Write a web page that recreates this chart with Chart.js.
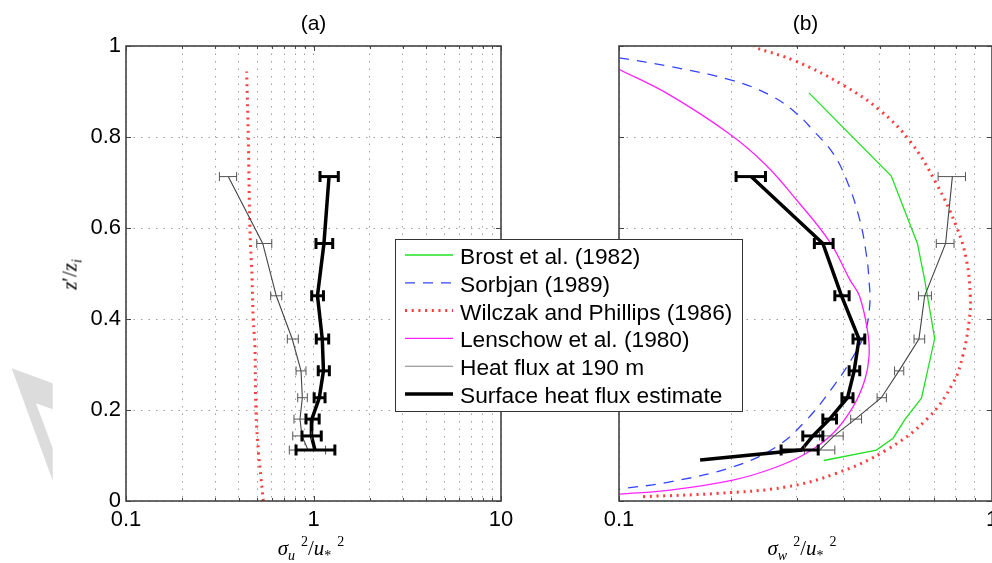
<!DOCTYPE html>
<html>
<head>
<meta charset="utf-8">
<title>Velocity variance profiles</title>
<script src="https://cdn.jsdelivr.net/npm/chart.js@4.4.1/dist/chart.umd.min.js"></script>
<style>
 html,body{margin:0;padding:0;background:#fff;}
 body{width:992px;height:563px;overflow:hidden;position:relative;}
 canvas{position:absolute;top:0;}
 #panelA{left:0;z-index:1;}
 #panelB{left:380px;z-index:2;}
 #mark{position:absolute;left:0;top:0;z-index:0;}
 .axlabel{position:absolute;font-family:"Liberation Serif","DejaVu Serif",serif;font-size:21px;line-height:21px;
   color:#000;white-space:nowrap;text-align:center;z-index:3;}
 .axlabel sub{font-size:14px;vertical-align:-5px;line-height:0;}
 .axlabel sup{font-size:14px;vertical-align:9px;line-height:0;margin-left:6px;}
</style>
</head>
<body>
<svg id="mark" width="60" height="500"><polygon points="11.7,368.3 52.7,383.3 52.7,409.3 36,403.3 52.7,448.3 52.7,480.7" fill="#dcdcdc"/></svg>
<canvas id="panelA" width="520" height="563"></canvas>
<canvas id="panelB" width="660" height="563"></canvas>
<div class="axlabel" style="left:251px;top:538px;width:120px;"><i>σ<sub>u</sub></i><sup>2</sup>/<i>u</i><sub>*</sub><sup>2</sup></div>
<div class="axlabel" style="left:742px;top:538px;width:120px;"><i>σ<sub>w</sub></i><sup>2</sup>/<i>u</i><sub>*</sub><sup>2</sup></div>
<div class="axlabel" style="left:40px;top:264px;width:60px;transform:rotate(-90deg);"><i>z</i>′/<i>z<sub>i</sub></i></div>
<script>
// observation levels z'/zi
const levels = [0.713, 0.566, 0.451, 0.356, 0.286, 0.227, 0.180, 0.143, 0.112];

// (a) sigma_u^2 / u*^2
const heat190U   = [0.351, 0.536, 0.633, 0.770, 0.858, 0.872, 0.847, 0.868, 0.935];
const heat190ULo = [0.315, 0.498, 0.591, 0.725, 0.807, 0.824, 0.787, 0.775, 0.743];
const heat190UHi = [0.389, 0.599, 0.677, 0.830, 0.912, 0.927, 0.912, 0.978, 1.160];
const surfaceU   = [1.210, 1.137, 1.050, 1.114, 1.130, 1.074, 0.980, 0.975, 1.018];
const surfaceULo = [1.083, 1.031, 0.978, 1.035, 1.060, 1.008, 0.912, 0.868, 0.807];
const surfaceUHi = [1.356, 1.266, 1.130, 1.205, 1.215, 1.152, 1.072, 1.100, 1.300];
const wilczakUz  = [0.00, 0.05, 0.11, 0.20, 0.34, 0.40, 0.49, 0.60, 0.80, 0.944];
const wilczakU   = [0.540, 0.525, 0.508, 0.493, 0.487, 0.477, 0.470, 0.458, 0.449, 0.440];

// (b) sigma_w^2 / u*^2
const heat190W   = [0.783, 0.751, 0.660, 0.637, 0.563, 0.505, 0.430, 0.377, 0.345];
const heat190WLo = [0.717, 0.709, 0.635, 0.618, 0.548, 0.492, 0.418, 0.345, 0.314];
const heat190WHi = [0.849, 0.791, 0.688, 0.660, 0.580, 0.521, 0.447, 0.399, 0.379];
const surfaceWz  = [0.713, 0.566, 0.451, 0.356, 0.286, 0.227, 0.180, 0.143, 0.112, 0.090];
const surfaceW   = [0.226, 0.352, 0.395, 0.440, 0.427, 0.410, 0.367, 0.331, 0.308, 0.165];
const surfaceWLo = [0.206, 0.334, 0.379, 0.424, 0.414, 0.396, 0.352, 0.311, 0.272, null];
const surfaceWHi = [0.247, 0.375, 0.414, 0.456, 0.442, 0.424, 0.383, 0.352, 0.342, null];
const brostZ     = [0.897, 0.714, 0.566, 0.486, 0.357, 0.226, 0.180, 0.138, 0.112, 0.089];
const brostW     = [0.323, 0.537, 0.631, 0.660, 0.702, 0.647, 0.585, 0.543, 0.490, 0.354];
const sorbjanZ   = [0.974, 0.955, 0.925, 0.892, 0.852, 0.815, 0.764, 0.698, 0.618, 0.544, 0.486, 0.430, 0.369, 0.317, 0.251, 0.178, 0.119, 0.075, 0.042, 0.026];
const sorbjanW   = [0.100, 0.137, 0.200, 0.254, 0.299, 0.331, 0.375, 0.411, 0.442, 0.460, 0.468, 0.470, 0.456, 0.424, 0.375, 0.318, 0.264, 0.202, 0.137, 0.100];
const lenschowZ  = [0.949, 0.892, 0.804, 0.738, 0.662, 0.570, 0.486, 0.449, 0.368, 0.317, 0.266, 0.207, 0.149, 0.105, 0.072, 0.046, 0.024, 0.015];
const lenschowW  = [0.100, 0.137, 0.200, 0.248, 0.299, 0.367, 0.416, 0.442, 0.465, 0.468, 0.456, 0.424, 0.375, 0.318, 0.259, 0.202, 0.137, 0.100];
const wilczakWz  = [0.0095, 0.017, 0.031, 0.061, 0.112, 0.182, 0.259, 0.321, 0.401, 0.449, 0.530, 0.603, 0.698, 0.790, 0.859, 0.914, 0.966, 0.998];
const wilczakW   = [0.116, 0.186, 0.281, 0.383, 0.521, 0.673, 0.786, 0.836, 0.870, 0.875, 0.854, 0.803, 0.709, 0.604, 0.500, 0.399, 0.299, 0.229];

// axes
const yTicks   = [0, 0.2, 0.4, 0.6, 0.8, 1];
const xGridA   = [0.1, 0.2, 0.3, 0.4, 0.5, 0.6, 0.7, 0.8, 0.9, 1, 2, 3, 4, 5, 6, 7, 8, 9, 10];
const xLabelsA = [0.1, 1, 10];
const xGridB   = [0.1, 0.2, 0.3, 0.4, 0.5, 0.6, 0.7, 0.8, 0.9, 1];
const xLabelsB = [0.1, 1];

const labels = ['Brost et al. (1982)', 'Sorbjan (1989)', 'Wilczak and Phillips (1986)',
  'Lenschow et al. (1980)', 'Heat flux at 190 m', 'Surface heat flux estimate'];

Chart.defaults.font.family = '"Liberation Sans", Arial, sans-serif';
Chart.defaults.font.size = 22;
Chart.defaults.color = '#000';

const pts = (xs, zs) => xs.map((v, i) => ({ x: v, y: zs[i] }));

const styles = {
  brost:    { borderColor: '#22e022', borderWidth: 1.3 },
  sorbjan:  { borderColor: '#3344ff', borderWidth: 1.3, borderDash: [10, 8], tension: 0.4 },
  wilczak:  { borderColor: 'rgba(255,25,25,0.85)', borderWidth: 3, borderDash: [2, 4.7], tension: 0.4 },
  lenschow: { borderColor: '#ff22ff', borderWidth: 1.3, tension: 0.4 },
  heat:     { borderColor: '#444', borderWidth: 1.1 },
  surface:  { borderColor: '#000', borderWidth: 3.5 }
};

function series(label, data, style, order, bars) {
  return Object.assign({ label, data, order, showLine: true, pointRadius: 0, fill: false, errorBars: bars }, style);
}

// horizontal error bars with end caps
const errorBarPlugin = {
  id: 'errorBars',
  afterDatasetsDraw(chart) {
    const { ctx, scales: { x, y } } = chart;
    ctx.save();
    chart.data.datasets.forEach(ds => {
      const eb = ds.errorBars;
      if (!eb) return;
      ctx.strokeStyle = eb.color;
      ds.data.forEach((p, i) => {
        if (eb.lo[i] == null) return;
        const py = y.getPixelForValue(p.y);
        const x1 = x.getPixelForValue(eb.lo[i]);
        const x2 = x.getPixelForValue(eb.hi[i]);
        ctx.lineWidth = eb.width;
        ctx.beginPath();
        ctx.moveTo(x1, py); ctx.lineTo(x2, py);
        ctx.stroke();
        ctx.lineWidth = eb.capWidth;
        ctx.beginPath();
        ctx.moveTo(x1, py - eb.cap); ctx.lineTo(x1, py + eb.cap);
        ctx.moveTo(x2, py - eb.cap); ctx.lineTo(x2, py + eb.cap);
        ctx.stroke();
      });
    });
    ctx.restore();
  }
};

// axes box with inward tick marks on all four sides
const framePlugin = {
  id: 'frame',
  afterDraw(chart) {
    const { ctx, chartArea: a, scales: { x, y } } = chart;
    ctx.save();
    ctx.strokeStyle = '#444';
    ctx.lineWidth = 1;
    ctx.beginPath();
    x.ticks.forEach(t => {
      const px = Math.round(x.getPixelForValue(t.value)) + 0.5;
      const len = t.label !== '' ? 5 : 3;
      ctx.moveTo(px, a.bottom); ctx.lineTo(px, a.bottom - len);
      ctx.moveTo(px, a.top); ctx.lineTo(px, a.top + len);
    });
    y.ticks.forEach(t => {
      const py = Math.round(y.getPixelForValue(t.value)) + 0.5;
      ctx.moveTo(a.left, py); ctx.lineTo(a.left + 5, py);
      ctx.moveTo(a.right, py); ctx.lineTo(a.right - 5, py);
    });
    ctx.stroke();
    ctx.lineWidth = 1.6;
    ctx.strokeRect(a.left, a.top, a.right - a.left, a.bottom - a.top);
    ctx.restore();
  }
};

const titlePlugin = {
  id: 'panelTitle',
  afterDraw(chart, args, opts) {
    const { ctx, chartArea: a } = chart;
    ctx.save();
    ctx.font = '21px "Liberation Sans", Arial, sans-serif';
    ctx.fillStyle = '#000';
    ctx.textAlign = 'center';
    ctx.textBaseline = 'middle';
    ctx.fillText(opts.text, (a.left + a.right) / 2, 24);
    ctx.restore();
  }
};

// boxed legend listing every series of panel (b)
const boxLegendPlugin = {
  id: 'boxLegend',
  afterDraw(chart, args, o) {
    const ctx = chart.ctx;
    ctx.save();
    ctx.fillStyle = '#fff';
    ctx.fillRect(o.x, o.y, o.w, o.h);
    ctx.strokeStyle = '#333';
    ctx.lineWidth = 1;
    ctx.strokeRect(o.x + 0.5, o.y + 0.5, o.w, o.h);
    ctx.font = o.font;
    chart.data.datasets.forEach((ds, i) => {
      const yc = o.y + o.first + i * o.step;
      ctx.save();
      ctx.strokeStyle = ds.legendColor || ds.borderColor;
      ctx.lineWidth = ds.borderWidth;
      ctx.setLineDash(ds.borderDash || []);
      ctx.beginPath();
      ctx.moveTo(o.x + 10, yc); ctx.lineTo(o.x + 58, yc);
      ctx.stroke();
      ctx.restore();
      ctx.fillStyle = '#000';
      ctx.fillText(ds.label, o.x + 65, yc + 9);
    });
    ctx.restore();
  }
};

function panelOptions(p) {
  return {
    responsive: false,
    animation: false,
    events: [],
    layout: { padding: { top: 46, right: p.padRight, bottom: 0, left: 0 } },
    plugins: {
      legend: { display: false },
      tooltip: { enabled: false },
      panelTitle: { text: p.title },
      boxLegend: p.legend || {}
    },
    scales: {
      x: {
        type: 'logarithmic', min: p.xGrid[0], max: p.xGrid[p.xGrid.length - 1],
        afterBuildTicks: s => { s.ticks = p.xGrid.map(v => ({ value: v })); },
        afterFit: s => { s.height = 62; },
        ticks: { autoSkip: false, maxRotation: 0, padding: 6,
          callback: v => p.xLabels.includes(v) ? String(v) : '' },
        grid: { color: '#a0a0a0', lineWidth: 1, drawTicks: false },
        border: { display: false, dash: [1.5, 6] }
      },
      y: {
        type: 'linear', min: 0, max: 1,
        afterBuildTicks: s => { s.ticks = yTicks.map(v => ({ value: v })); },
        afterFit: s => { s.width = p.yWidth; },
        ticks: { display: p.showY, padding: 5, callback: v => String(v) },
        grid: { color: '#a0a0a0', lineWidth: 1, drawTicks: false },
        border: { display: false, dash: [1.5, 6] }
      }
    }
  };
}

const thinBars = { color: '#555', width: 1, capWidth: 1, cap: 4.5 };
const thickBars = { color: '#000', width: 3, capWidth: 3, cap: 5.5 };

new Chart(document.getElementById('panelA'), {
  type: 'scatter',
  data: {
    datasets: [
      series(labels[2], pts(wilczakU, wilczakUz), styles.wilczak, 3),
      series(labels[4], pts(heat190U, levels), styles.heat, 2,
        Object.assign({ lo: heat190ULo, hi: heat190UHi }, thinBars)),
      series(labels[5], pts(surfaceU, levels), styles.surface, 1,
        Object.assign({ lo: surfaceULo, hi: surfaceUHi }, thickBars))
    ]
  },
  options: panelOptions({ title: '(a)', xGrid: xGridA, xLabels: xLabelsA, showY: true, yWidth: 126, padRight: 19 }),
  plugins: [errorBarPlugin, framePlugin, titlePlugin]
});

new Chart(document.getElementById('panelB'), {
  type: 'scatter',
  data: {
    datasets: [
      series(labels[0], pts(brostW, brostZ), styles.brost, 6),
      series(labels[1], pts(sorbjanW, sorbjanZ), styles.sorbjan, 5),
      series(labels[2], pts(wilczakW, wilczakWz), styles.wilczak, 4),
      series(labels[3], pts(lenschowW, lenschowZ), styles.lenschow, 3),
      Object.assign(series(labels[4], pts(heat190W, levels), styles.heat, 2,
        Object.assign({ lo: heat190WLo, hi: heat190WHi }, thinBars)), { legendColor: '#808080' }),
      series(labels[5], pts(surfaceW, surfaceWz), styles.surface, 1,
        Object.assign({ lo: surfaceWLo, hi: surfaceWHi }, thickBars))
    ]
  },
  options: panelOptions({
    title: '(b)', xGrid: xGridB, xLabels: xLabelsB, showY: false, yWidth: 239, padRight: 48,
    legend: { x: 15, y: 239, w: 347, h: 172, first: 16, step: 27.8, font: '22.7px "Liberation Sans", Arial, sans-serif' }
  }),
  plugins: [errorBarPlugin, framePlugin, titlePlugin, boxLegendPlugin]
});
</script>
</body>
</html>
